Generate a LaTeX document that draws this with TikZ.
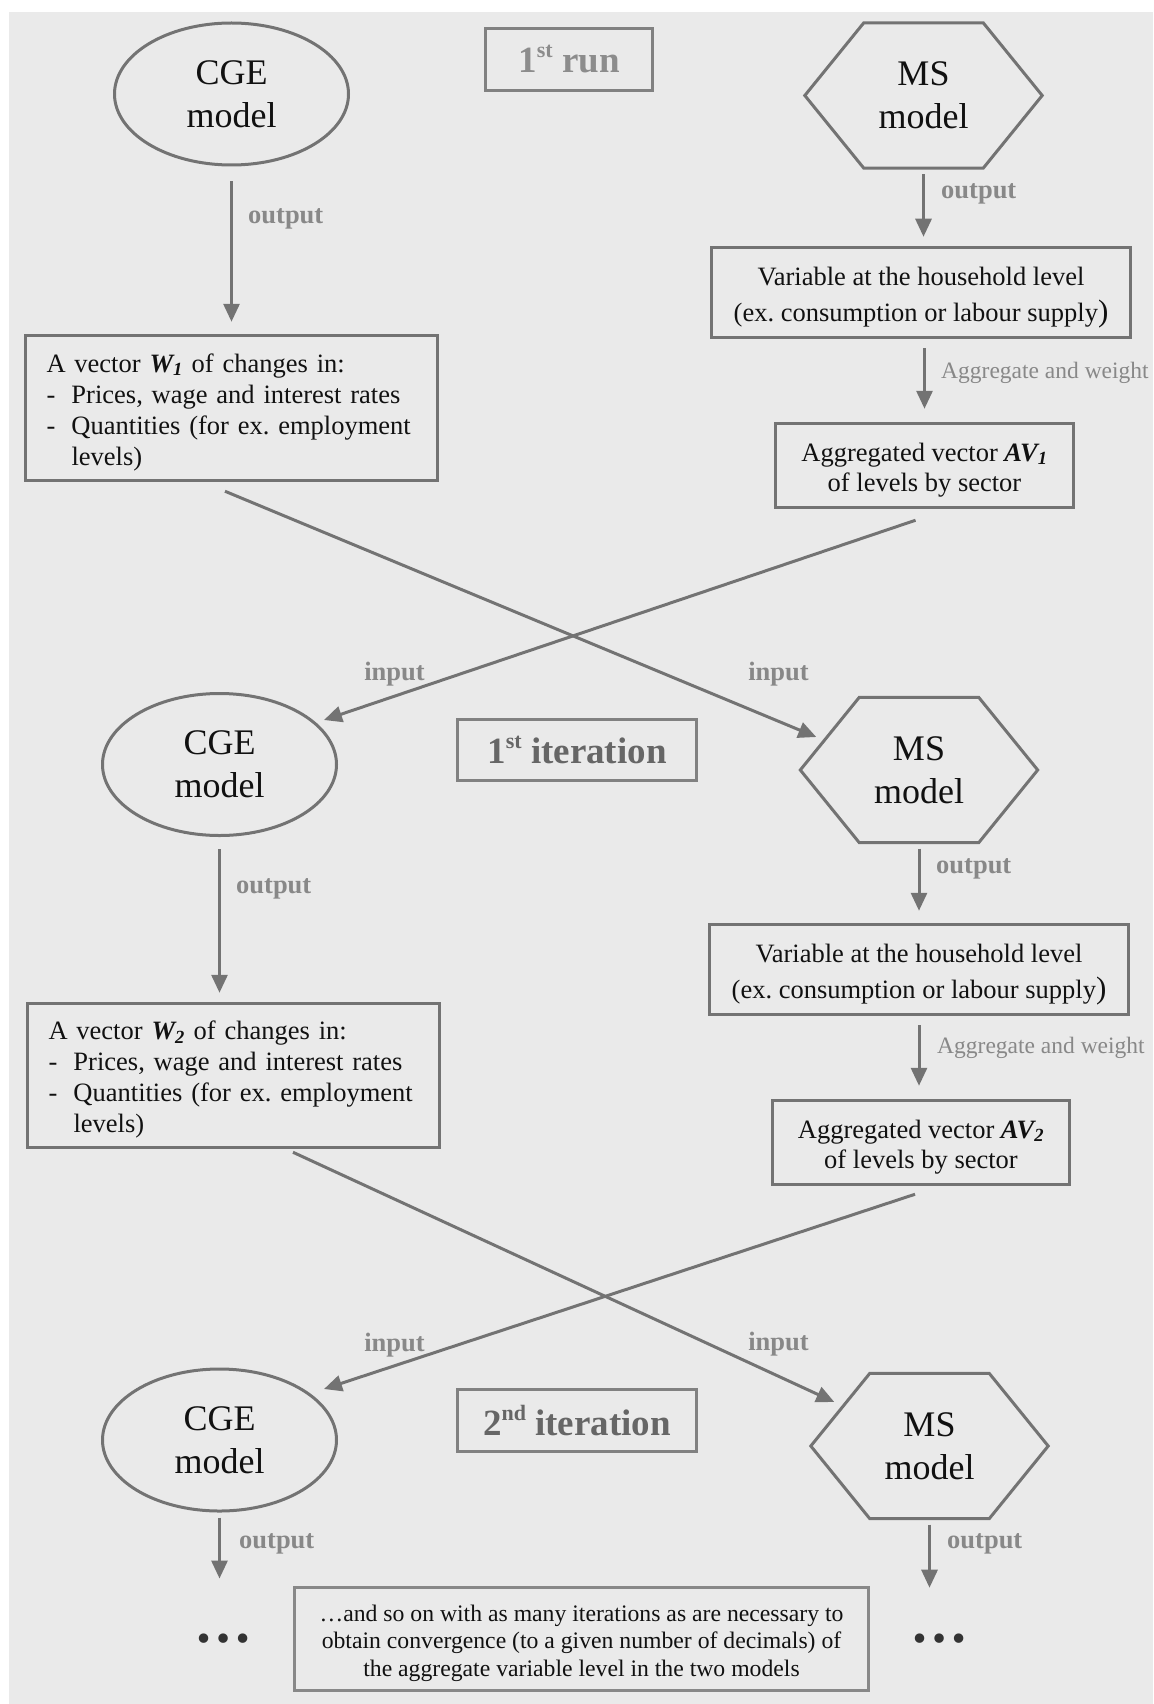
\documentclass[tikz,border=0pt]{standalone}
\usepackage{fontspec}
\setmainfont{Liberation Serif}
\usetikzlibrary{shapes.geometric,arrows.meta,calc}
\definecolor{bgc}{HTML}{EAEAEA}
\definecolor{linec}{HTML}{737373}
\definecolor{labc}{HTML}{888888}
\definecolor{titc}{HTML}{666666}
\definecolor{runc}{HTML}{8C8C8C}
\definecolor{txtc}{HTML}{111111}
\definecolor{dotc}{HTML}{333333}
\newcommand{\hexof}[1]{\draw[hexline] (#1.west) -- ($(#1.north west)+(59,0)$) -- ($(#1.north east)+(-59,0)$) -- (#1.east) -- ($(#1.south east)+(-59,0)$) -- ($(#1.south west)+(59,0)$) -- cycle;}
\newcommand{\supr}[1]{\raisebox{15pt}{\fontsize{22}{22}\selectfont #1}}
\tikzset{
  modeltext/.style={font=\fontsize{36}{43}\selectfont, text=txtc, align=center},
  cgenode/.style={modeltext, ellipse, draw=linec, line width=3pt, minimum width=234pt, minimum height=142pt, inner sep=0pt},
  msnode/.style={modeltext, rectangle, minimum width=237pt, minimum height=145pt, inner sep=0pt},
  hexline/.style={draw=linec, line width=3pt, line join=miter},
  infobox/.style={rectangle, draw=linec, line width=3.5pt, text=txtc, inner sep=0pt},
  titlebox/.style={rectangle, draw=linec!90, line width=3.5pt, font=\fontsize{37}{40}\selectfont\bfseries, inner sep=0pt},
  lab/.style={font=\fontsize{26.5}{30}\selectfont\bfseries, text=labc, inner sep=0pt},
  agglab/.style={font=\fontsize{23.5}{27}\selectfont, text=labc, inner sep=0pt, anchor=west},
  flow/.style={draw=linec, line width=3pt, -{Triangle[length=18pt,width=16pt]}},
  dotnode/.style={font=\fontsize{58}{58}\selectfont\bfseries, text=dotc, inner sep=0pt, anchor=base},
}
\begin{document}
\begin{tikzpicture}[x=1pt,y=-1pt]
\useasboundingbox (0,0) rectangle (1153,1704);
\fill[white] (0,0) rectangle (1153,1704);
\fill[bgc] (9,12) rectangle (1153,1704);

% ---------- 1st run ----------
\node[cgenode] (cge1) at (231.5,94) {CGE\\model};
\node[titlebox, text=runc, minimum width=167pt, minimum height=62pt] (run1) at (569,59.5) {1\supr{st} run};
\node[msnode] (ms1) at (923.5,95.5) {MS\\model};
\hexof{ms1}
\node[infobox, minimum width=419pt, minimum height=90pt, align=center, font=\fontsize{26.5}{36}\selectfont] (var1) at (921,292.5)
  {\rule{0pt}{28pt}Variable at the household level\\(ex.\ consumption or labour supply{\fontsize{31}{36}\selectfont)}};
\node[infobox, minimum width=412pt, minimum height=145pt, text width=370pt, align=left, font=\fontsize{26.5}{31}\selectfont] (w1) at (231.5,408)
  {\rule{0pt}{27pt}A vector \textbf{\textit{W\textsubscript{1}}} of changes in:\\\makebox[25pt][l]{-}Prices, wage and interest rates\\\makebox[25pt][l]{-}Quantities (for ex.\ employment\\\hspace*{25pt}levels)};
\node[infobox, minimum width=298pt, minimum height=84pt, align=center, font=\fontsize{26.5}{30}\selectfont] (av1) at (924.5,465.5)
  {\rule{0pt}{27pt}Aggregated vector \textbf{\textit{AV\textsubscript{1}}}\\of levels by sector};

\draw[flow, shorten <=15pt, shorten >=12pt] (cge1.south) -- (cge1.south |- w1.north);
\node[lab, anchor=west] (out1) at (248,219) {output};
\draw[flow, shorten <=6pt, shorten >=9pt] (ms1.south) -- (ms1.south |- var1.north);
\node[lab, anchor=west] (out2) at (941,194) {output};
\draw[flow, shorten <=9pt, shorten >=13pt] (av1.north |- var1.south) -- (av1.north);
\node[agglab] (agg1) at (941,373) {Aggregate and weight};

% ---------- 1st iteration ----------
\node[cgenode] (cge2) at (219.5,764.5) {CGE\\model};
\node[titlebox, text=titc, minimum width=239pt, minimum height=61pt] (it1) at (577,750) {1\supr{st} iteration};
\node[msnode] (ms2) at (919,770) {MS\\model};
\hexof{ms2}

\coordinate (x1a) at ($(w1.south)+(-6.5,9)$);
\coordinate (x1b) at ($(ms2.west)+(16,-33)$);
\coordinate (x2a) at ($(av1.south)+(-9,11)$);
\coordinate (x2b) at ($(cge2.center)+(104.5,-44.5)$);
\draw[flow] (x1a) -- (x1b);
\draw[flow] (x2a) -- (x2b);
\node[lab] (in1) at (394.5,674) {input};
\node[lab] (in2) at (778.5,674) {input};

\node[infobox, minimum width=419pt, minimum height=90pt, align=center, font=\fontsize{26.5}{36}\selectfont] (var2) at (919,969.5)
  {\rule{0pt}{28pt}Variable at the household level\\(ex.\ consumption or labour supply{\fontsize{31}{36}\selectfont)}};
\node[infobox, minimum width=412pt, minimum height=144pt, text width=370pt, align=left, font=\fontsize{26.5}{31}\selectfont] (w2) at (233.5,1075.5)
  {\rule{0pt}{27pt}A vector \textbf{\textit{W\textsubscript{2}}} of changes in:\\\makebox[25pt][l]{-}Prices, wage and interest rates\\\makebox[25pt][l]{-}Quantities (for ex.\ employment\\\hspace*{25pt}levels)};
\node[infobox, minimum width=297pt, minimum height=84pt, align=center, font=\fontsize{26.5}{30}\selectfont] (av2) at (921,1142.5)
  {\rule{0pt}{27pt}Aggregated vector \textbf{\textit{AV\textsubscript{2}}}\\of levels by sector};

\draw[flow, shorten <=12pt, shorten >=9pt] (cge2.south) -- (cge2.south |- w2.north);
\node[lab, anchor=west] (out3) at (236,889) {output};
\draw[flow, shorten <=6pt, shorten >=12pt] (ms2.south) -- (ms2.south |- var2.north);
\node[lab, anchor=west] (out4) at (936,869) {output};
\draw[flow, shorten <=9pt, shorten >=13pt] (var2.south) -- (var2.south |- av2.north);
\node[agglab] (agg2) at (937,1048) {Aggregate and weight};

% ---------- 2nd iteration ----------
\node[cgenode] (cge3) at (219.5,1440) {CGE\\model};
\node[titlebox, text=titc, minimum width=239pt, minimum height=62pt] (it2) at (577,1420.5) {2\supr{nd} iteration};
\node[msnode] (ms3) at (929.5,1446) {MS\\model};
\hexof{ms3}

\coordinate (x3a) at ($(w2.south)+(59.5,3)$);
\coordinate (x3b) at ($(ms3.west)+(23.5,-44)$);
\coordinate (x4a) at ($(av2.south)+(-6,8)$);
\coordinate (x4b) at ($(cge3.center)+(104.5,-51)$);
\draw[flow] (x3a) -- (x3b);
\draw[flow] (x4a) -- (x4b);
\node[lab] (in3) at (394.5,1345) {input};
\node[lab] (in4) at (778.5,1344) {input};

\coordinate (e1) at ($(cge3.south)+(0,66)$);
\coordinate (e2) at ($(ms3.south)+(0,69)$);
\draw[flow, shorten <=5pt] (cge3.south) -- (e1);
\node[lab, anchor=west] (out5) at (239,1544) {output};
\draw[flow, shorten <=6pt] (ms3.south) -- (e2);
\node[lab, anchor=west] (out6) at (947,1544) {output};

\node[infobox, draw=linec!85, minimum width=574pt, minimum height=103pt, align=center, font=\fontsize{23.7}{27.5}\selectfont] (fin) at (581.5,1639)
  {\rule{0pt}{25pt}…and so on with as many iterations as are necessary to\\obtain convergence (to a given number of decimals) of\\the aggregate variable level in the two models};
\node[dotnode] (dl) at (223.5,1642) {…};
\node[dotnode] (dr) at (939,1642) {…};
\end{tikzpicture}
\end{document}
